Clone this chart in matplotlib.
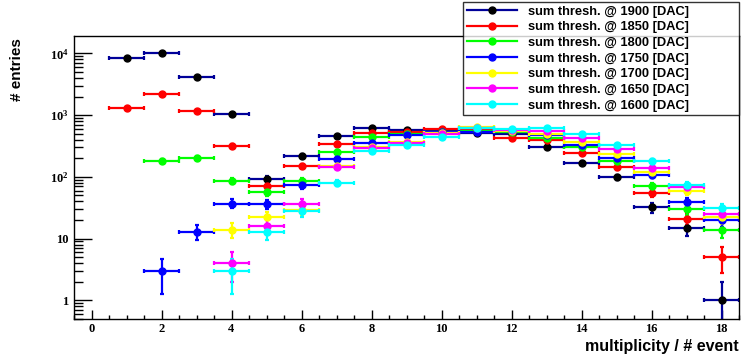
import numpy as np
import matplotlib
matplotlib.use("Agg")
import matplotlib.pyplot as plt
from matplotlib.lines import Line2D
from matplotlib.ticker import FixedLocator, MultipleLocator, LogLocator, NullFormatter, FixedFormatter

plt.rcParams['mathtext.fontset'] = 'custom'
plt.rcParams['mathtext.rm'] = 'Liberation Serif:bold'
plt.rcParams['mathtext.it'] = 'Liberation Serif:bold'
plt.rcParams['mathtext.bf'] = 'Liberation Serif:bold'

# ---------------- data ----------------
multiplicity = list(range(1, 19))

labels = ["sum thresh. @ 1900 [DAC]", "sum thresh. @ 1850 [DAC]", "sum thresh. @ 1800 [DAC]",
          "sum thresh. @ 1750 [DAC]", "sum thresh. @ 1700 [DAC]", "sum thresh. @ 1650 [DAC]",
          "sum thresh. @ 1600 [DAC]"]

# None = empty bin
s1900 = [8300, 10000, 4190, 1054, 92, 220, 459, 610, 574, 550, 508, 490, 305, 168, 98, 32, 15, 1]
s1850 = [1288, 2195, 1180, 320, 71, 152, 335, 515, 540, 590, 570, 430, 389, 248, 143, 54, 21, 5]
s1800 = [None, 179, 202, 86, 56, 86, 255, 450, 500, 540, 560, 530, 431, 310, 183, 71, 30, 14]
s1750 = [None, 3, 13, 37, 36, 73, 195, 360, 471, 530, 534, 547, 477, 325, 200, 106, 39, 20]
s1700 = [None, None, None, 14, 22, 29, 148, 300, 367, 513, 649, 560, 500, 372, 238, 119, 59, 22]
s1650 = [None, None, None, 4, 16, 37, 146, 288, 350, 490, 620, 575, 553, 421, 282, 139, 68, 25]
s1600 = [None, None, None, 3, 13, 28, 79, 259, 332, 440, 628, 600, 611, 490, 324, 181, 75, 31]

series = [s1900, s1850, s1800, s1750, s1700, s1650, s1600]
line_colors = ["#000099", "#ff0000", "#00ff00", "#0000ff", "#ffff00", "#ff00ff", "#00ffff"]
marker_colors = ["#000000", "#ff0000", "#00ff00", "#0000ff", "#ffff00", "#ff00ff", "#00ffff"]

x_ticks = [0, 2, 4, 6, 8, 10, 12, 14, 16, 18]
y_ticks = [1, 10, 100, 1000, 10000]
y_tick_labels = ["1", "10", "10$^{2}$", "10$^{3}$", "10$^{4}$"]

# ---------------- figure ----------------
fig = plt.figure(figsize=(7.47, 3.55), dpi=100)
ax = fig.add_axes([74/747, (355-319)/355, (739-74)/747, (319-35.7)/355])

handles = []
for vals, lc, mc, lab in zip(series, line_colors, marker_colors, labels):
    xs = np.array([m for m, v in zip(multiplicity, vals) if v is not None], float)
    ys = np.array([v for v in vals if v is not None], float)
    err = np.sqrt(ys)
    lo = np.minimum(err, ys - 1e-3)
    ax.errorbar(xs, ys, xerr=0.5, yerr=[lo, err], fmt='o', color=lc, ecolor=lc,
                mfc=mc, mec=mc, ms=5, elinewidth=1.6, capsize=1.2, capthick=1.6)
    handles.append(Line2D([], [], color=lc, lw=1.6, marker='o', ms=5, mfc=mc, mec=mc,
                          label=lab))

ax.set_yscale('log')
ax.set_xlim(-0.5, 18.5)
ax.set_ylim(0.5, 1.93e4)

ax.xaxis.set_major_locator(FixedLocator(x_ticks))
ax.xaxis.set_minor_locator(MultipleLocator(0.5))
ax.yaxis.set_major_locator(FixedLocator(y_ticks))
ax.yaxis.set_major_formatter(FixedFormatter(y_tick_labels))
ax.yaxis.set_minor_locator(LogLocator(base=10, subs=np.arange(2, 10)))
ax.yaxis.set_minor_formatter(NullFormatter())

ax.tick_params(axis='x', which='major', direction='in', length=6.5, width=1, pad=3,
               labelsize=9, top=False)
ax.tick_params(axis='x', which='minor', direction='in', length=3.2, width=1, top=False)
ax.tick_params(axis='y', which='major', direction='in', length=13, width=1, pad=4,
               labelsize=9, right=False)
ax.tick_params(axis='y', which='minor', direction='in', length=6.5, width=1, right=False)
for lbl in ax.get_xticklabels() + ax.get_yticklabels():
    lbl.set_fontfamily('Liberation Serif')
    lbl.set_fontweight('bold')

for sp in ax.spines.values():
    sp.set_linewidth(1)

fig.text(739/747, (355-347)/355, "multiplicity / # event", ha='right', va='center',
         fontfamily='Liberation Sans', fontweight='bold', fontsize=11.5)
fig.text(17/747, (355-38)/355, "# entries", ha='center', va='top', rotation=90,
         fontfamily='Liberation Sans', fontweight='bold', fontsize=11)

leg = fig.legend(handles=handles, loc='upper left',
                 bbox_to_anchor=(463/747, (355-2)/355, (739-463)/747, 0.001),
                 mode='expand', frameon=True, fancybox=False, shadow=False,
                 prop={'family': 'Liberation Sans', 'weight': 'bold', 'size': 9.3},
                 handlelength=3.9, handletextpad=0.8, labelspacing=0.28,
                 borderpad=0.3, borderaxespad=0)
leg.get_frame().set_edgecolor('black')
leg.get_frame().set_linewidth(1)

fig.savefig("out.png", dpi=100)
